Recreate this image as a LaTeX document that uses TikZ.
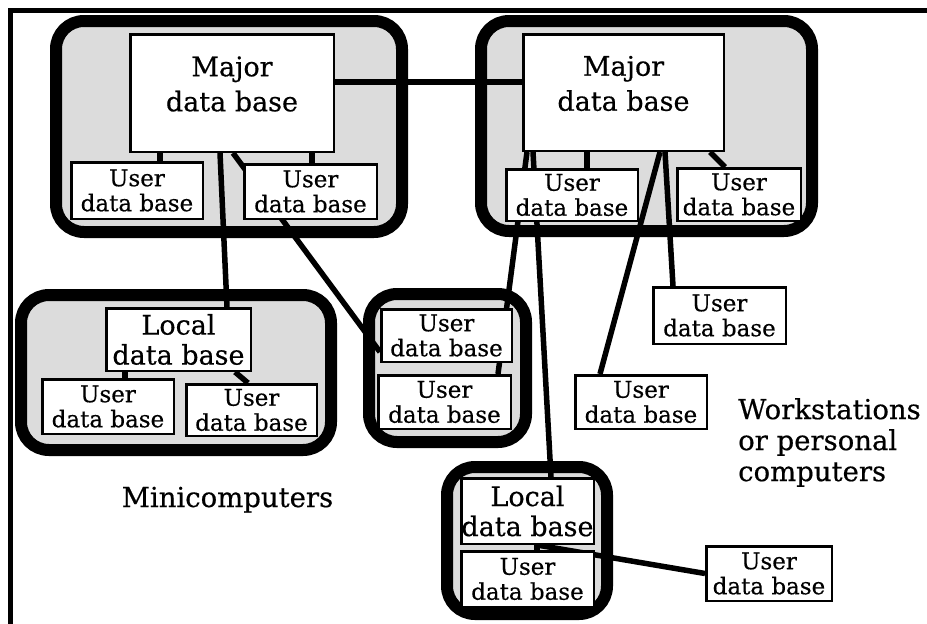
\documentclass[tikz,border=0pt]{standalone}
\usepackage{fontspec}
\setmainfont{DejaVu Serif}[FakeBold=0.5]
\usetikzlibrary{calc}
\definecolor{groupgrey}{RGB}{220,220,220}
\pgfdeclarelayer{groups}
\pgfdeclarelayer{links}
\pgfsetlayers{groups,links,main}
\begin{document}
\begin{tikzpicture}[x=1pt,y=-1pt,
  frameline/.style={line width=4.5pt},
  group/.style={draw, line width=12pt, fill=groupgrey, rounded corners=28pt,
    rectangle, inner sep=0pt},
  dbbox/.style={draw, line width=2.5pt, fill=white, rectangle, inner sep=0pt,
    align=center},
  userbox/.style={dbbox, font=\fontsize{23}{25}\selectfont},
  localbox/.style={dbbox, font=\fontsize{27}{30}\selectfont},
  majortext/.style={font=\fontsize{27}{35}\selectfont, align=center, inner sep=0pt},
  link/.style={line width=5.5pt},
  caption/.style={font=\fontsize{27.5}{31}\selectfont, inner sep=0pt}
]
\useasboundingbox (0,0) rectangle (927,624);

% page frame: top and left rules
\draw[frameline] (10.5,624) -- (10.5,10.5) -- (927,10.5);

% machine groups
\begin{pgfonlayer}{groups}
\node[group, minimum width=346pt, minimum height=211pt] (grpA) at (229,126.5) {};
\node[group, minimum width=331pt, minimum height=210pt] (grpB) at (646.5,126) {};
\node[group, minimum width=310pt, minimum height=155pt] (grpL) at (176,372.5) {};
\node[group, minimum width=157pt, minimum height=148pt] (grpC) at (447.5,368) {};
\node[group, minimum width=160pt, minimum height=147pt] (grpD) at (527,540.5) {};
\end{pgfonlayer}

% major data bases
\node[dbbox, minimum width=203.5pt, minimum height=117.5pt] (majA) at (232,93) {};
\node[dbbox, minimum width=200.5pt, minimum height=116.5pt] (majB) at (623.5,92.5) {};
\node[majortext] (majAtext) at ([yshift=9pt]majA.center) {Major\\data base};
\node[majortext] (majBtext) at ([yshift=9pt]majB.center) {Major\\data base};

% local data bases
\node[localbox, minimum width=144.5pt, minimum height=62.5pt] (locL) at (178.5,339.5) {Local\\data base};
\node[localbox, minimum width=132.5pt, minimum height=65.5pt] (locD) at (527.5,511) {Local\\data base};

% user data bases
\foreach \n/\x/\y/\w/\h in {
  uA1/137/190.5/131.5/56.5, uA2/310.5/191.5/132.5/54.5,
  uB1/572/195/131.5/51.5,   uB2/739/194.5/123.5/52.5,
  uL1/108/406.5/131.5/54.5, uL2/251.5/410/130.5/51.5,
  uC1/446.5/335.5/130.5/52.5, uC2/444.5/402/132.5/53.5,
  uW1/719.5/315.5/132.5/56.5, uW2/641/402/131.5/53.5,
  uD1/527.5/579/132.5/55.5, uE/769/573.5/125.5/54.5}
  \node[userbox, minimum width=\w pt, minimum height=\h pt] (\n) at (\x,\y) {User\\data base};

% connectors, kept under the boxes
\begin{pgfonlayer}{links}
\draw[link] ([yshift=11pt]majA.east) -- ([yshift=10.5pt]majB.west);
\draw[link] ([xshift=31pt]majA.south west) -- ([xshift=90pt]uA1.north west);
\draw[link] ([xshift=183pt]majA.south west) -- ([xshift=69pt]uA2.north west);
\draw[link] ([xshift=91pt]majA.south west) -- ([xshift=122pt]locL.north west);
\draw[link] ([xshift=104pt]majA.south west) -- ([yshift=-16.5pt]uC1.west);
\draw[link] ([xshift=20pt]locL.south west) -- ([xshift=84pt]uL1.north west);
\draw[link] ([xshift=130pt]locL.south west) -- ([xshift=63pt]uL2.north west);
\draw[link] ([xshift=65pt]majB.south west) -- ([xshift=82pt]uB1.north west);
\draw[link] ([xshift=188pt]majB.south west) -- ([xshift=49pt]uB2.north west);
\draw[link] ([xshift=5pt]majB.south west) -- ([xshift=121pt]uC2.north west);
\draw[link] ([xshift=11pt]majB.south west) -- ([xshift=91pt]locD.north west);
\draw[link] ([xshift=138pt]majB.south west) -- ([xshift=26pt]uW2.north west);
\draw[link] ([xshift=143pt]majB.south west) -- ([xshift=21pt]uW1.north west);
\draw[link] ([xshift=77pt]locD.south west) -- ([xshift=77pt]uD1.north west);
\draw[link] ([xshift=77pt]locD.south west) -- (uE.west);
\end{pgfonlayer}

% captions
\node[caption, anchor=base] (mini) at (227.5,507) {Minicomputers};
\node[caption, anchor=north west, align=left] (work) at (738,398) {Workstations\\or personal\\computers};
\end{tikzpicture}
\end{document}
